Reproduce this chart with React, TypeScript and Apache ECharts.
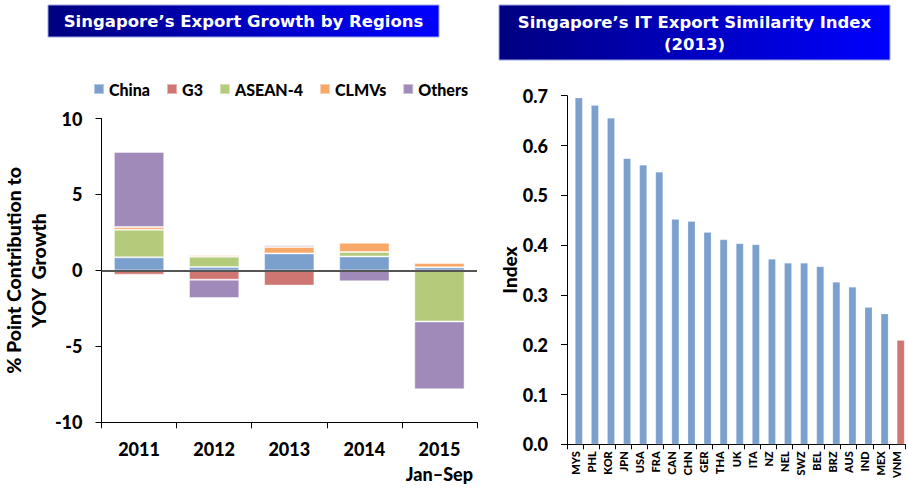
import React, { useEffect, useRef } from "react";
import * as echarts from "echarts";

const years = ["2011", "2012", "2013", "2014", "2015\nJan–Sep"];
const regionNames = ["China", "G3", "ASEAN-4", "CLMVs", "Others"];
const china = [0.86, 0.22, 1.12, 0.92, 0.2];
const g3 = [-0.28, -0.61, -1.0, 0, 0];
const asean4 = [1.82, 0.68, 0, 0.29, -3.36];
const clmvs = [0.18, 0.09, 0.42, 0.61, 0.29];
const others = [4.94, -1.21, 0.11, -0.72, -4.47];
const leftTicks = { min: -10, max: 10, interval: 5 };

const countries = ["MYS", "PHL", "KOR", "JPN", "USA", "FRA", "CAN", "CHN", "GER", "THA", "UK", "ITA", "NZ", "NEL", "SWZ", "BEL", "BRZ", "AUS", "IND", "MEX", "VNM"];
const similarity = [0.696, 0.681, 0.655, 0.574, 0.561, 0.547, 0.452, 0.448, 0.426, 0.411, 0.403, 0.401, 0.372, 0.364, 0.364, 0.357, 0.326, 0.316, 0.275, 0.262, 0.209];
const highlighted = ["VNM"];
const rightTicks = { min: 0, max: 0.7, interval: 0.1 };

const regionColors = ["#7BA0CD", "#CF7673", "#B3CB7B", "#F8A96A", "#A08ABA"];
const blue = "#7BA0CD";
const red = "#CF7673";

export default function App() {
  const ref = useRef<HTMLDivElement>(null);
  useEffect(() => {
    if (!ref.current) return;
    const chart = echarts.init(ref.current, null, { renderer: "svg" });
    const font = "Lato";
    const fw = 900;
    const regionData = [china, g3, asean4, clmvs, others];
    const leftSeries: any[] = regionNames.map((name, i) => ({
      name,
      type: "bar",
      stack: "total",
      xAxisIndex: 0,
      yAxisIndex: 0,
      barCategoryGap: "33%",
      data: regionData[i],
      itemStyle: { color: regionColors[i], borderColor: "rgba(255,255,255,0.45)", borderWidth: 1 },
      ...(i === 0
        ? {
            markLine: {
              silent: true,
              symbol: "none",
              label: { show: false },
              lineStyle: { color: "#555", width: 2, type: "solid" },
              data: [{ yAxis: 0 }],
            },
          }
        : {}),
    }));

    const titleFill = () =>
      new echarts.graphic.LinearGradient(0, 0, 1, 0, [
        { offset: 0, color: "#000080" },
        { offset: 1, color: "#0000FF" },
      ]);

    const option: any = {
      animation: false,
      backgroundColor: "#fff",
      textStyle: { fontFamily: font },
      legend: {
        data: regionNames,
        left: 88,
        top: 76,
        itemWidth: 10,
        itemHeight: 10,
        itemGap: 16,
        icon: "rect",
        textStyle: { fontFamily: font, fontWeight: fw, fontSize: 16, color: "#000" },
      },
      grid: [
        { left: 96, right: 431, top: 118.5, bottom: 65.7 },
        { left: 567, right: 3, top: 95.7, bottom: 43.7 },
      ],
      xAxis: [
        {
          type: "category",
          gridIndex: 0,
          data: years,
          axisLine: { onZero: false, lineStyle: { color: "#000", width: 1 } },
          axisTick: { show: true, length: 6, interval: 0, lineStyle: { color: "#000" } },
          axisLabel: { fontFamily: font, fontWeight: fw, fontSize: 18, color: "#000", margin: 14, lineHeight: 25, interval: 0 },
        },
        {
          type: "category",
          gridIndex: 1,
          data: countries,
          axisLine: { lineStyle: { color: "#000", width: 1 } },
          axisTick: { show: true, length: 5, interval: 0, lineStyle: { color: "#000" } },
          axisLabel: { fontFamily: font, fontWeight: fw, fontSize: 11, color: "#000", rotate: 90, interval: 0, margin: 7 },
        },
      ],
      yAxis: [
        {
          type: "value",
          gridIndex: 0,
          ...leftTicks,
          name: "% Point Contribution to\nYOY  Growth",
          nameLocation: "middle",
          nameGap: 36,
          nameTextStyle: { fontFamily: font, fontWeight: fw, fontSize: 19.5, color: "#000", lineHeight: 25 },
          axisLine: { show: true, lineStyle: { color: "#000", width: 1 } },
          axisTick: { show: true, length: 6, lineStyle: { color: "#000" } },
          splitLine: { show: false },
          axisLabel: { fontFamily: font, fontWeight: fw, fontSize: 18, color: "#000", margin: 19 },
        },
        {
          type: "value",
          gridIndex: 1,
          ...rightTicks,
          name: "Index",
          nameLocation: "middle",
          nameGap: 45,
          nameTextStyle: { fontFamily: font, fontWeight: fw, fontSize: 19, color: "#000" },
          axisLine: { show: true, lineStyle: { color: "#000", width: 1 } },
          axisTick: { show: true, length: 6, lineStyle: { color: "#000" } },
          splitLine: { show: false },
          axisLabel: {
            fontFamily: font,
            fontWeight: fw,
            fontSize: 18,
            color: "#000",
            margin: 19,
            formatter: (v: number) => v.toFixed(1),
          },
        },
      ],
      series: [
        ...leftSeries,
        {
          name: "spacer",
          type: "bar",
          xAxisIndex: 1,
          yAxisIndex: 1,
          barWidth: 7.5,
          barGap: "0%",
          data: countries.map(() => null),
          silent: true,
        },
        {
          name: "Similarity",
          type: "bar",
          xAxisIndex: 1,
          yAxisIndex: 1,
          barWidth: 7.5,
          barGap: "0%",
          data: similarity.map((v, i) => ({
            value: v,
            itemStyle: { color: highlighted.includes(countries[i]) ? red : blue },
          })),
          itemStyle: { borderColor: "rgba(255,255,255,0.4)", borderWidth: 0.5 },
        },
      ],
      graphic: [
        {
          type: "rect",
          shape: { x: 48, y: 5, width: 391, height: 32 },
          style: { fill: titleFill(), stroke: "#9AA8E0", lineWidth: 1 },
        },
        {
          type: "text",
          x: 243.5,
          y: 21,
          style: {
            text: "Singapore’s Export Growth by Regions",
            fill: "#fff",
            font: "bold 16.5px 'DejaVu Sans'",
            textAlign: "center",
            textVerticalAlign: "middle",
          },
        },
        {
          type: "rect",
          shape: { x: 499, y: 5, width: 391, height: 55 },
          style: { fill: titleFill(), stroke: "#9AA8E0", lineWidth: 1 },
        },
        {
          type: "text",
          x: 694.5,
          y: 33,
          style: {
            text: "Singapore’s IT Export Similarity Index\n(2013)",
            fill: "#fff",
            font: "bold 16.5px 'DejaVu Sans'",
            lineHeight: 22,
            textAlign: "center",
            textVerticalAlign: "middle",
          },
        },
      ],
    };
    chart.setOption(option);
    return () => chart.dispose();
  }, []);
  return <div ref={ref} style={{ position: "fixed", left: 0, top: 0, width: 908, height: 488 }} />;
}
